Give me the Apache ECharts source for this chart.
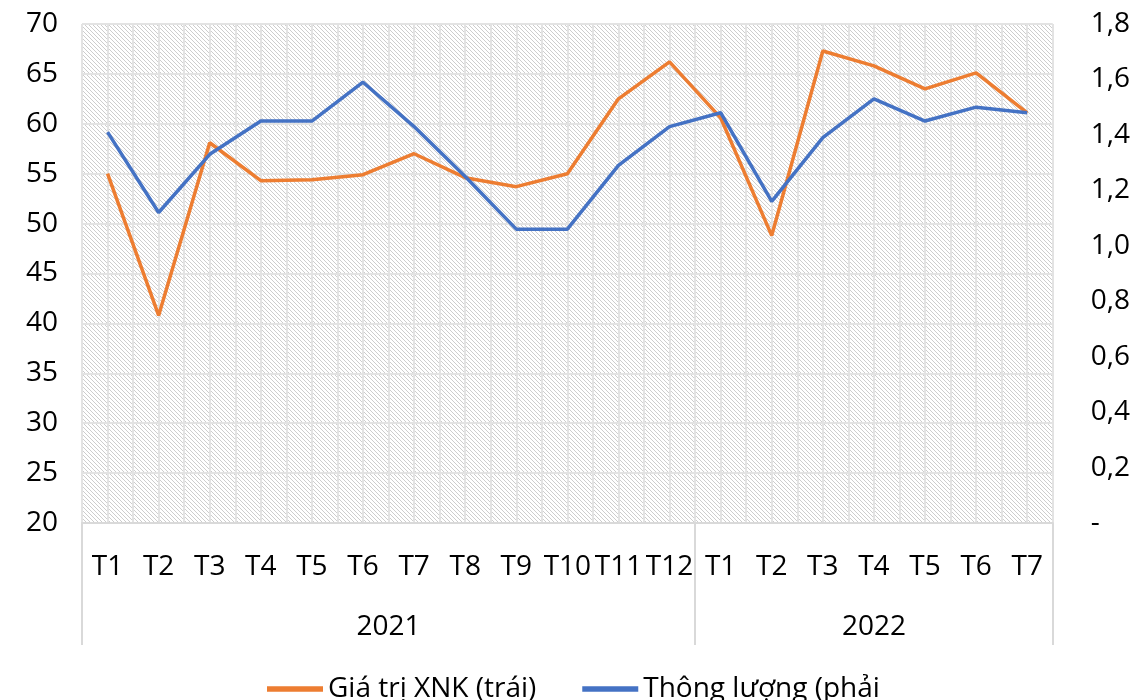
<!DOCTYPE html>
<html>
<head>
<meta charset="utf-8">
<script src="https://cdn.jsdelivr.net/npm/echarts@6/dist/echarts.min.js"></script>
<style>
  html, body { margin: 0; padding: 0; background: #fff; }
  #main { width: 1133px; height: 700px; }
</style>
</head>
<body>
<div id="main"></div>
<script>
// data
var years = ['2021', '2022'];
var months2021 = ['T1', 'T2', 'T3', 'T4', 'T5', 'T6', 'T7', 'T8', 'T9', 'T10', 'T11', 'T12'];
var months2022 = ['T1', 'T2', 'T3', 'T4', 'T5', 'T6', 'T7'];
var giaTriXNK = [55.0, 40.8, 58.1, 54.3, 54.4, 54.9, 57.0, 54.6, 53.7, 55.0, 62.5, 66.2,
                 60.6, 48.8, 67.3, 65.8, 63.5, 65.1, 61.1];
var thongLuong = [1.41, 1.12, 1.33, 1.45, 1.45, 1.59, 1.43, 1.25, 1.06, 1.06, 1.29, 1.43,
                  1.48, 1.16, 1.39, 1.53, 1.45, 1.50, 1.48];
var leftMin = 20, leftMax = 70, leftStep = 5;
var rightMin = 0, rightMax = 1.8, rightStep = 0.2;

var monthsByYear = [months2021, months2022];
var categories = [];
monthsByYear.forEach(function (ms, i) {
  ms.forEach(function (m) { categories.push(years[i] + '|' + m); });
});

var FONT = '"Open Sans", "Noto Sans", sans-serif';

// hatch pattern for plot background
var tile = document.createElement('canvas');
tile.width = 4; tile.height = 4;
var tc = tile.getContext('2d');
tc.fillStyle = '#ffffff';
tc.fillRect(0, 0, 4, 4);
tc.fillStyle = '#cdcdcd';
for (var py = 0; py < 4; py++) {
  for (var px = 0; px < 4; px++) {
    if (((px - py) % 4 + 4) % 4 === 0) tc.fillRect(px, py, 1, 1);
  }
}

var chart = echarts.init(document.getElementById('main'));

var option = {
  animation: false,
  textStyle: { fontFamily: FONT },
  grid: {
    left: 82, right: 78, top: 24, bottom: 177,
    show: true,
    borderWidth: 0,
    backgroundColor: { image: tile, repeat: 'repeat' }
  },
  legend: {
    left: 262, top: 670,
    itemWidth: 56, itemHeight: 10, itemGap: 46,
    icon: 'path://M0,0 L10,0 L10,1 L0,1 Z',
    textStyle: { fontSize: 28, color: '#000', fontFamily: FONT },
    data: ['Giá trị XNK (trái)', 'Thông lượng (phải']
  },
  xAxis: [{
    type: 'category',
    data: categories,
    boundaryGap: true,
    axisLine: { lineStyle: { color: '#d9d9d9', width: 2 } },
    axisTick: { show: false },
    splitLine: { show: false },
    axisLabel: {
      interval: 0, fontSize: 28, color: '#000', margin: 30,
      formatter: function (v) { return v.split('|')[1]; }
    }
  }, {
    type: 'value',
    min: 0, max: categories.length, interval: 0.5,
    position: 'bottom',
    axisLine: { show: false }, axisTick: { show: false }, axisLabel: { show: false },
    splitLine: { show: true, lineStyle: { color: '#e3e3e3', width: 2 } }
  }],
  yAxis: [{
    type: 'value',
    min: leftMin, max: leftMax, interval: leftStep,
    axisLine: { show: false }, axisTick: { show: false },
    axisLabel: { fontSize: 28, color: '#000', margin: 24 },
    splitLine: { lineStyle: { color: '#e3e3e3', width: 2 } }
  }, {
    type: 'value',
    min: rightMin, max: rightMax, interval: rightStep,
    axisLine: { show: false }, axisTick: { show: false },
    splitLine: { show: false },
    axisLabel: {
      fontSize: 28, color: '#000', margin: 38, align: 'left',
      formatter: function (v) { return v === 0 ? '-' : v.toFixed(1).replace('.', ','); }
    }
  }],
  series: [{
    name: 'Giá trị XNK (trái)',
    type: 'line',
    yAxisIndex: 0,
    data: giaTriXNK,
    symbol: 'none',
    lineStyle: { color: '#ED7D31', width: 3.5 },
    itemStyle: { color: '#ED7D31' },
    z: 3
  }, {
    name: 'Thông lượng (phải',
    type: 'line',
    yAxisIndex: 1,
    data: thongLuong,
    symbol: 'none',
    lineStyle: { color: '#4472C4', width: 3.5 },
    itemStyle: { color: '#4472C4' },
    z: 4
  }]
};
chart.setOption(option);

// year group labels and separators under the category axis
var yBottom = chart.convertToPixel({ yAxisIndex: 0 }, leftMin);
var graphics = [];
var start = 0;
var bounds = [0];
monthsByYear.forEach(function (ms, i) {
  var end = start + ms.length;
  bounds.push(end);
  var cx = chart.convertToPixel({ xAxisIndex: 1 }, (start + end) / 2);
  graphics.push({
    type: 'text', x: cx, y: yBottom + 104,
    style: { text: years[i], fontSize: 28, fontFamily: FONT, fill: '#000',
             textAlign: 'center', textVerticalAlign: 'middle' }
  });
  start = end;
});
bounds.forEach(function (b) {
  var bx = Math.round(chart.convertToPixel({ xAxisIndex: 1 }, b));
  graphics.push({
    type: 'line',
    shape: { x1: bx, y1: yBottom, x2: bx, y2: yBottom + 122 },
    style: { stroke: '#d9d9d9', lineWidth: 2 }
  });
});
chart.setOption({ graphic: graphics });
</script>
</body>
</html>
